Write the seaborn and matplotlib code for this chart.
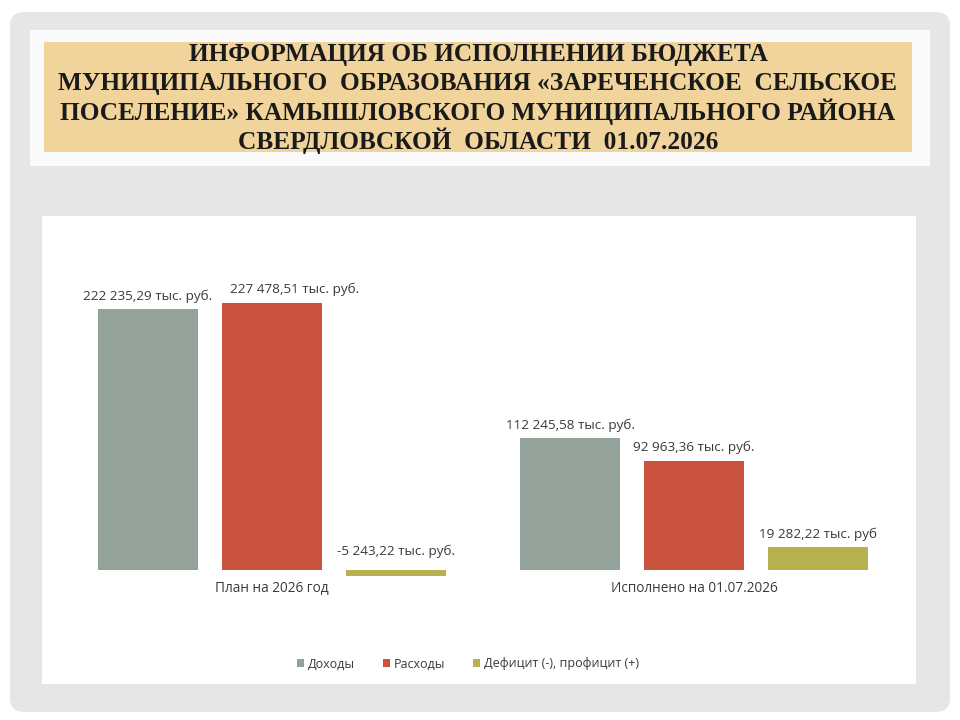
import pandas as pd
import matplotlib
matplotlib.use('Agg')
from matplotlib import pyplot as plt
from matplotlib.patches import FancyBboxPatch, Rectangle
import seaborn as sns

# data
title_lines = [
    'ИНФОРМАЦИЯ ОБ ИСПОЛНЕНИИ БЮДЖЕТА',
    'МУНИЦИПАЛЬНОГО  ОБРАЗОВАНИЯ «ЗАРЕЧЕНСКОЕ  СЕЛЬСКОЕ',
    'ПОСЕЛЕНИЕ» КАМЫШЛОВСКОГО МУНИЦИПАЛЬНОГО РАЙОНА',
    'СВЕРДЛОВСКОЙ  ОБЛАСТИ  01.07.2026',
]
categories = ['План на 2026 год', 'Исполнено на 01.07.2026']
series = ['Доходы', 'Расходы', 'Дефицит (-), профицит (+)']
income = [222235.29, 112245.58]
expenses = [227478.51, 92963.36]
balance = [-5243.22, 19282.22]
value_labels = [
    ['222 235,29 тыс. руб.', '112 245,58 тыс. руб.'],
    ['227 478,51 тыс. руб.', '92 963,36 тыс. руб.'],
    ['-5 243,22 тыс. руб.', '19 282,22 тыс. руб'],
]
colors = ['#94a39a', '#c9533f', '#b5b14f']

rows = []
for name, vals in zip(series, [income, expenses, balance]):
    for cat, v in zip(categories, vals):
        rows.append({'Категория': cat, 'Показатель': name, 'Сумма': v})
df = pd.DataFrame(rows)

sns.set_theme(style='white')
plt.rcParams['font.family'] = ['Open Sans', 'DejaVu Sans']
text_color = '#3a3a3a'

fig = plt.figure(figsize=(9.6, 7.2), dpi=100)

# slide background drawn in pixel coordinates
bg = fig.add_axes([0, 0, 1, 1], zorder=0)
bg.set_xlim(0, 960)
bg.set_ylim(720, 0)
bg.axis('off')
bg.add_patch(FancyBboxPatch((10, 12), 940, 700,
                            boxstyle='round,pad=0,rounding_size=14',
                            fc='#e6e6e6', ec='none'))
bg.add_patch(Rectangle((30, 30), 900, 136, fc='#fafafa', ec='none'))
bg.add_patch(Rectangle((44, 42), 868, 110, fc='#f0d49b', ec='none'))
bg.add_patch(Rectangle((42, 216), 874, 468, fc='white', ec='none'))
for i, line in enumerate(title_lines):
    bg.text(478, 55 + i * 28.5, line, ha='center', va='center',
            family=['Liberation Serif', 'DejaVu Serif'], fontweight='bold',
            fontsize=18.3, color='#1a1a1a')

ax = fig.add_axes([42 / 960, 1 - 577 / 720, 874 / 960, 347 / 720], zorder=1)
ax.set_facecolor('none')
sns.barplot(data=df, x='Категория', y='Сумма', hue='Показатель',
            palette=colors, saturation=1, width=0.8815, gap=0.194,
            linewidth=0, ax=ax)

ax.set_xlim(-0.545, 1.526)
ax.set_ylim(-5960, 289480)
ax.set_xlabel('')
ax.set_ylabel('')
ax.set_yticks([])
sns.despine(ax=ax, left=True, bottom=True)
ax.tick_params(axis='x', length=0, pad=3, labelsize=9.8, labelcolor=text_color)

# value labels above the bars (one label nudged like on the slide)
nudges = {(1, 0): (23, 1), (2, 0): (0, 6)}
for i, cont in enumerate(ax.containers):
    for j, bar in enumerate(cont):
        x = bar.get_x() + bar.get_width() / 2
        top = max(bar.get_y() + bar.get_height(), bar.get_y())
        dx, dy = nudges.get((i, j), (0, 0))
        ax.annotate(value_labels[i][j], (x, top), xytext=(dx, 13 + dy),
                    textcoords='offset pixels', ha='center', va='center',
                    fontsize=9.7, color=text_color)

handles, labels = ax.get_legend_handles_labels()
ax.legend(handles, labels, loc='center', bbox_to_anchor=(468 / 960, 1 - 664 / 720),
          bbox_transform=fig.transFigure, ncol=3, frameon=False,
          handlelength=0.6, handleheight=0.6, handletextpad=0.3,
          columnspacing=2.2, fontsize=9, labelcolor=text_color)

fig.savefig('out.png', dpi=100)
